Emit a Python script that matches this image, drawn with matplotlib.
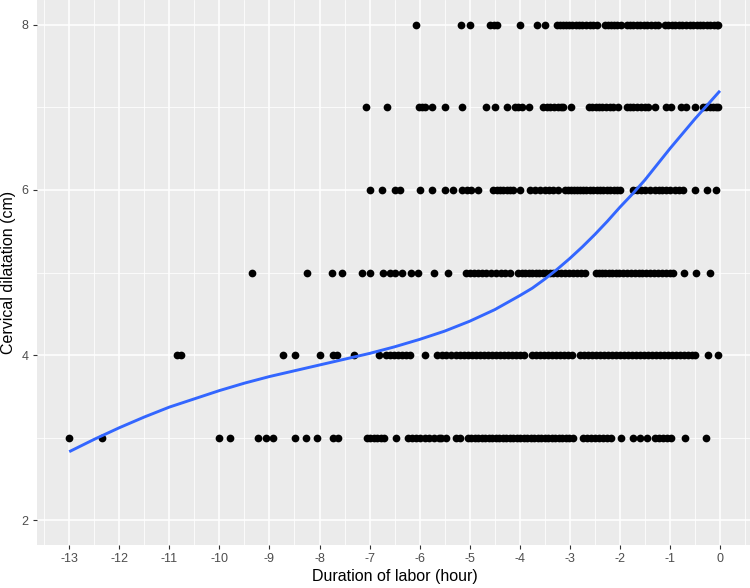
import matplotlib
matplotlib.use("Agg")
import matplotlib.pyplot as plt
from matplotlib.ticker import MultipleLocator

plt.rcParams['font.family'] = ['Liberation Sans', 'DejaVu Sans']
plt.rcParams['axes.unicode_minus'] = False

# ---- data ----
x_dil8 = [-6.08, -5.17, -4.99, -4.60, -4.52, -4.45, -3.99, -3.66, -3.49,
          -3.26, -3.20, -3.14, -3.08, -3.02, -2.95, -2.88, -2.82, -2.75, -2.68, -2.60, -2.53, -2.46,
          -2.30, -2.24, -2.18, -2.12, -2.05, -1.98,
          -1.86, -1.80, -1.73, -1.66, -1.60, -1.52, -1.45, -1.38, -1.30, -1.23,
          -1.10, -1.03, -0.96, -0.89, -0.82, -0.75, -0.67,
          -0.60, -0.53, -0.46, -0.40, -0.33, -0.26, -0.19, -0.12, -0.06, -0.03]
x_dil7 = [-7.08, -6.66, -6.02, -5.96, -5.89, -5.75, -5.50, -5.16, -4.67, -4.49, -4.25,
          -4.09, -4.03, -3.96, -3.81,
          -3.53, -3.46, -3.39, -3.31, -3.24, -3.18, -3.13, -2.98,
          -2.61, -2.55, -2.48, -2.42, -2.35, -2.28, -2.20, -2.13, -2.03,
          -1.86, -1.80, -1.73, -1.66, -1.58, -1.50, -1.43, -1.30, -1.07, -0.97,
          -0.77, -0.67, -0.50,
          -0.33, -0.27, -0.20, -0.13, -0.08, -0.03]
x_dil6 = [-7.00, -6.75, -6.50, -6.40, -5.99, -5.75, -5.50, -5.33, -5.16, -5.06, -4.98, -4.83,
          -4.53, -4.46, -4.40, -4.33, -4.26, -4.19, -4.13, -3.99, -3.79, -3.70, -3.59,
          -3.50, -3.42, -3.34, -3.23,
          -3.10, -3.04, -2.98, -2.92, -2.86, -2.80, -2.73, -2.67, -2.60, -2.53, -2.46,
          -2.40, -2.33, -2.26, -2.19, -2.12, -2.06, -2.00,
          -1.73, -1.66, -1.58, -1.50, -1.40, -1.30, -1.22, -1.15, -1.08, -1.00,
          -0.90, -0.82, -0.73, -0.49, -0.26, -0.07]
x_dil5 = [-9.35, -8.25, -7.76, -7.55, -7.16, -6.99, -6.74, -6.60, -6.49, -6.35, -6.18, -6.04,
          -5.72, -5.44,
          -5.08, -5.00, -4.92, -4.84, -4.76, -4.68, -4.58, -4.48, -4.38, -4.29, -4.20,
          -4.03, -3.96, -3.89, -3.82, -3.75, -3.68, -3.61, -3.54, -3.47, -3.40, -3.33,
          -3.26, -3.18, -3.10, -3.02, -2.94, -2.86, -2.78, -2.69,
          -2.48, -2.42, -2.36, -2.29, -2.22, -2.15, -2.08, -2.01, -1.94, -1.86, -1.78,
          -1.70, -1.62, -1.55, -1.47, -1.40, -1.32, -1.24, -1.16, -1.08, -1.00, -0.93,
          -0.72, -0.47, -0.20]
x_dil4 = [-10.84, -10.77, -8.73, -8.49, -7.99, -7.73, -7.65, -7.31, -6.82,
          -6.67, -6.60, -6.52, -6.44, -6.36, -6.28, -6.19, -5.89,
          -5.65, -5.56, -5.47, -5.38,
          -5.28, -5.20, -5.12, -5.04, -4.96, -4.88, -4.80, -4.72, -4.64, -4.56, -4.48,
          -4.40, -4.32, -4.24, -4.16, -4.08, -4.00, -3.92,
          -3.75, -3.68, -3.60, -3.52, -3.44, -3.36, -3.28, -3.20, -3.12, -3.04, -2.96,
          -2.79, -2.72, -2.64, -2.56, -2.48, -2.40, -2.32, -2.24, -2.16, -2.08, -2.00,
          -1.92, -1.84, -1.76, -1.68, -1.60, -1.52, -1.44, -1.36, -1.28, -1.20, -1.12,
          -1.04, -0.96, -0.88, -0.80, -0.72, -0.64, -0.56, -0.49,
          -0.24, -0.03]
x_dil3 = [-13.00, -12.35, -10.00, -9.79, -9.23, -9.07, -8.93, -8.49, -8.27, -8.06, -7.73, -7.64,
          -7.06, -6.99, -6.92, -6.85, -6.78, -6.72, -6.48,
          -6.24, -6.16, -6.08, -6.00, -5.90, -5.81, -5.71, -5.62, -5.57, -5.47, -5.28, -5.19,
          -5.04, -4.97, -4.90, -4.83, -4.76, -4.69, -4.62, -4.55, -4.48, -4.41, -4.34,
          -4.27, -4.20, -4.13, -4.06, -3.99, -3.92, -3.85, -3.78, -3.71, -3.64, -3.57,
          -3.50, -3.43, -3.36, -3.29, -3.22, -3.15, -3.08, -3.01, -2.93,
          -2.74, -2.66, -2.58, -2.50, -2.42, -2.34, -2.26, -2.17, -1.97,
          -1.73, -1.59, -1.45, -1.30, -1.22, -1.14, -1.06, -0.97, -0.70, -0.28]

rows = {8: x_dil8, 7: x_dil7, 6: x_dil6, 5: x_dil5, 4: x_dil4, 3: x_dil3}

smooth_x = [-13.0, -12.5, -12.0, -11.5, -11.0, -10.5, -10.0, -9.5, -9.0, -8.5, -8.0,
            -7.5, -7.0, -6.5, -6.0, -5.5, -5.0, -4.5, -4.0, -3.75, -3.5, -3.25, -3.0,
            -2.75, -2.5, -2.25, -2.0, -1.75, -1.5, -1.25, -1.0, -0.75, -0.5, -0.25, 0.0]
smooth_y = [2.83, 2.98, 3.12, 3.25, 3.37, 3.47, 3.57, 3.66, 3.74, 3.81, 3.88,
            3.95, 4.02, 4.10, 4.19, 4.29, 4.41, 4.55, 4.72, 4.81, 4.92, 5.04, 5.17,
            5.31, 5.46, 5.62, 5.79, 5.95, 6.12, 6.31, 6.50, 6.68, 6.86, 7.03, 7.20]

x_ticks = list(range(-13, 1))
x_ticklabels = [str(v) for v in x_ticks]
y_ticks = [2, 4, 6, 8]
y_ticklabels = ['2', '4', '6', '8']

# ---- figure ----
fig = plt.figure(figsize=(7.5, 5.88), dpi=100)
ax = fig.add_axes([36.7 / 750, 1 - 545 / 588, (752.5 - 36.7) / 750, 545 / 588])
ax.set_facecolor('#EBEBEB')

for yv, xs in rows.items():
    ax.scatter(xs, [yv] * len(xs), s=31, color='black', linewidths=0, zorder=3)

ax.plot(smooth_x, smooth_y, color='#3366FF', lw=2.1, zorder=4,
        solid_capstyle='butt', solid_joinstyle='round')

ax.set_xlim(-13.65, 0.65)
ax.set_ylim(1.7, 8.3)
ax.set_xticks(x_ticks)
ax.set_xticklabels(x_ticklabels)
ax.set_yticks(y_ticks)
ax.set_yticklabels(y_ticklabels)
ax.xaxis.set_minor_locator(MultipleLocator(0.5))
ax.yaxis.set_minor_locator(MultipleLocator(1))

ax.grid(which='major', color='white', lw=1.1, zorder=0)
ax.grid(which='minor', color='white', lw=0.55, zorder=0)
ax.set_axisbelow(True)
for sp in ax.spines.values():
    sp.set_visible(False)

ax.tick_params(which='major', length=3, width=0.8, color='#333333',
               labelcolor='#4D4D4D', labelsize=9, pad=3)
ax.tick_params(which='minor', length=0)

ax.set_xlabel('Duration of labor (hour)', fontsize=11.5, color='black', labelpad=3)
ax.set_ylabel('Cervical dilatation (cm)', fontsize=11.5, color='black', labelpad=4)

fig.savefig('out.png', dpi=100)
